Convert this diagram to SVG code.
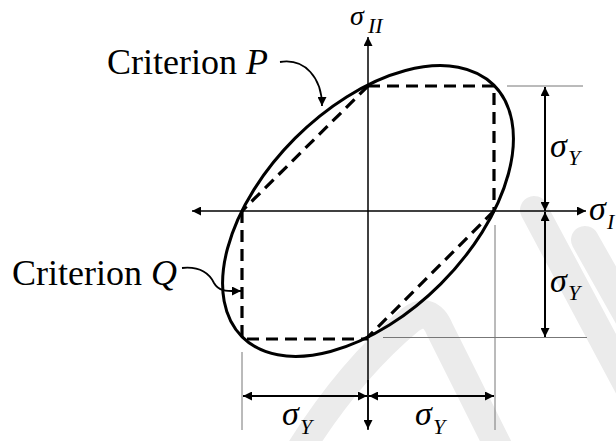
<svg xmlns="http://www.w3.org/2000/svg" width="616" height="441" viewBox="0 0 616 441">
<defs>
<marker id="ah" viewBox="0 0 10 10" refX="10" refY="5" markerWidth="10" markerHeight="9" markerUnits="userSpaceOnUse" orient="auto">
<path d="M0,0 L10,5 L0,10 Z" fill="#000"/>
</marker>
</defs>
<style>
.wm{fill:none;stroke:#ebebeb;stroke-width:28;stroke-linecap:round}
.ax{fill:none;stroke:#000;stroke-width:1.5}
.dim{fill:none;stroke:#000;stroke-width:2}
.ext{fill:none;stroke:#777;stroke-width:1}
.dash{fill:none;stroke:#000;stroke-width:3.2;stroke-dasharray:12 7}
.ell{fill:none;stroke:#000;stroke-width:3}
.lead{fill:none;stroke:#000;stroke-width:1.8}
.lbl{font-family:"Liberation Serif","Times New Roman",serif;font-size:36px;fill:#000}
.sig{font-family:"Liberation Serif","Times New Roman",serif;font-style:italic;font-size:34px;fill:#000}
.sub{font-family:"Liberation Serif","Times New Roman",serif;font-style:italic;font-size:22px;fill:#000}
</style>
<g id="watermark">
<path class="wm" d="M534,210 L630,390"/>
<path class="wm" d="M585,240 L630,320"/>
<path class="wm" d="M300,450 Q350,370 410,320 Q430,305 440,330 L500,450"/>
</g>
<g id="axes">
<line class="ax" x1="368" y1="430" x2="368" y2="37" marker-end="url(#ah)"/>
<line class="ax" x1="368" y1="211" x2="586" y2="211" marker-end="url(#ah)"/>
<line class="ax" x1="368" y1="211" x2="192" y2="211" marker-end="url(#ah)"/>
<line class="ax" x1="368" y1="380" x2="368" y2="429" marker-end="url(#ah)"/>
</g>
<g id="criterionQ">
<path class="dash" d="M368,86 L494,86 L494,211"/>
<path class="dash" d="M242,211 L242,339 L368,339"/>
<path class="dash" d="M368,86 L242,211"/>
<path class="dash" d="M494,211 L368,337"/>
</g>
<g id="criterionP">
<ellipse class="ell" cx="368" cy="211" rx="178" ry="103" transform="rotate(-45 368 211)"/>
</g>
<g id="dimensions">
<line class="ext" x1="507" y1="86" x2="583" y2="86"/>
<line class="ext" x1="383" y1="337.5" x2="587" y2="337.5"/>
<line class="ext" x1="242" y1="352" x2="242" y2="430"/>
<line class="ext" x1="495" y1="225" x2="495" y2="430"/>
<line class="dim" x1="545" y1="150" x2="545" y2="87" marker-end="url(#ah)"/>
<line class="dim" x1="545" y1="150" x2="545" y2="211" marker-end="url(#ah)"/>
<line class="dim" x1="545" y1="270" x2="545" y2="212" marker-end="url(#ah)"/>
<line class="dim" x1="545" y1="270" x2="545" y2="337" marker-end="url(#ah)"/>
<line class="dim" x1="300" y1="396" x2="243" y2="396" marker-end="url(#ah)"/>
<line class="dim" x1="300" y1="396" x2="367" y2="396" marker-end="url(#ah)"/>
<line class="dim" x1="430" y1="396" x2="369" y2="396" marker-end="url(#ah)"/>
<line class="dim" x1="430" y1="396" x2="494" y2="396" marker-end="url(#ah)"/>
</g>
<g id="leaders">
<path class="lead" d="M280,62 C305,58 322,78 322,106" marker-end="url(#ah)"/>
<path class="lead" d="M182,268 C202,266 210,275 214,283 C219,292 228,291 241,291" marker-end="url(#ah)"/>
</g>
<g id="labels">
<text class="sig" x="350" y="25" style="font-size:28px">σ</text><text class="sub" x="368" y="33">II</text>
<text class="lbl" x="107" y="74">Criterion <tspan font-style="italic">P</tspan></text>
<text class="lbl" x="12" y="285">Criterion <tspan font-style="italic">Q</tspan></text>
<text class="sig" x="589" y="220">σ</text><text class="sub" x="607" y="229">I</text>
<text class="sig" x="550" y="157">σ</text><text class="sub" x="568" y="165">Y</text>
<text class="sig" x="550" y="292">σ</text><text class="sub" x="568" y="300">Y</text>
<text class="sig" x="282" y="425">σ</text><text class="sub" x="300" y="434">Y</text>
<text class="sig" x="415" y="425">σ</text><text class="sub" x="433" y="434">Y</text>
</g>
</svg>
